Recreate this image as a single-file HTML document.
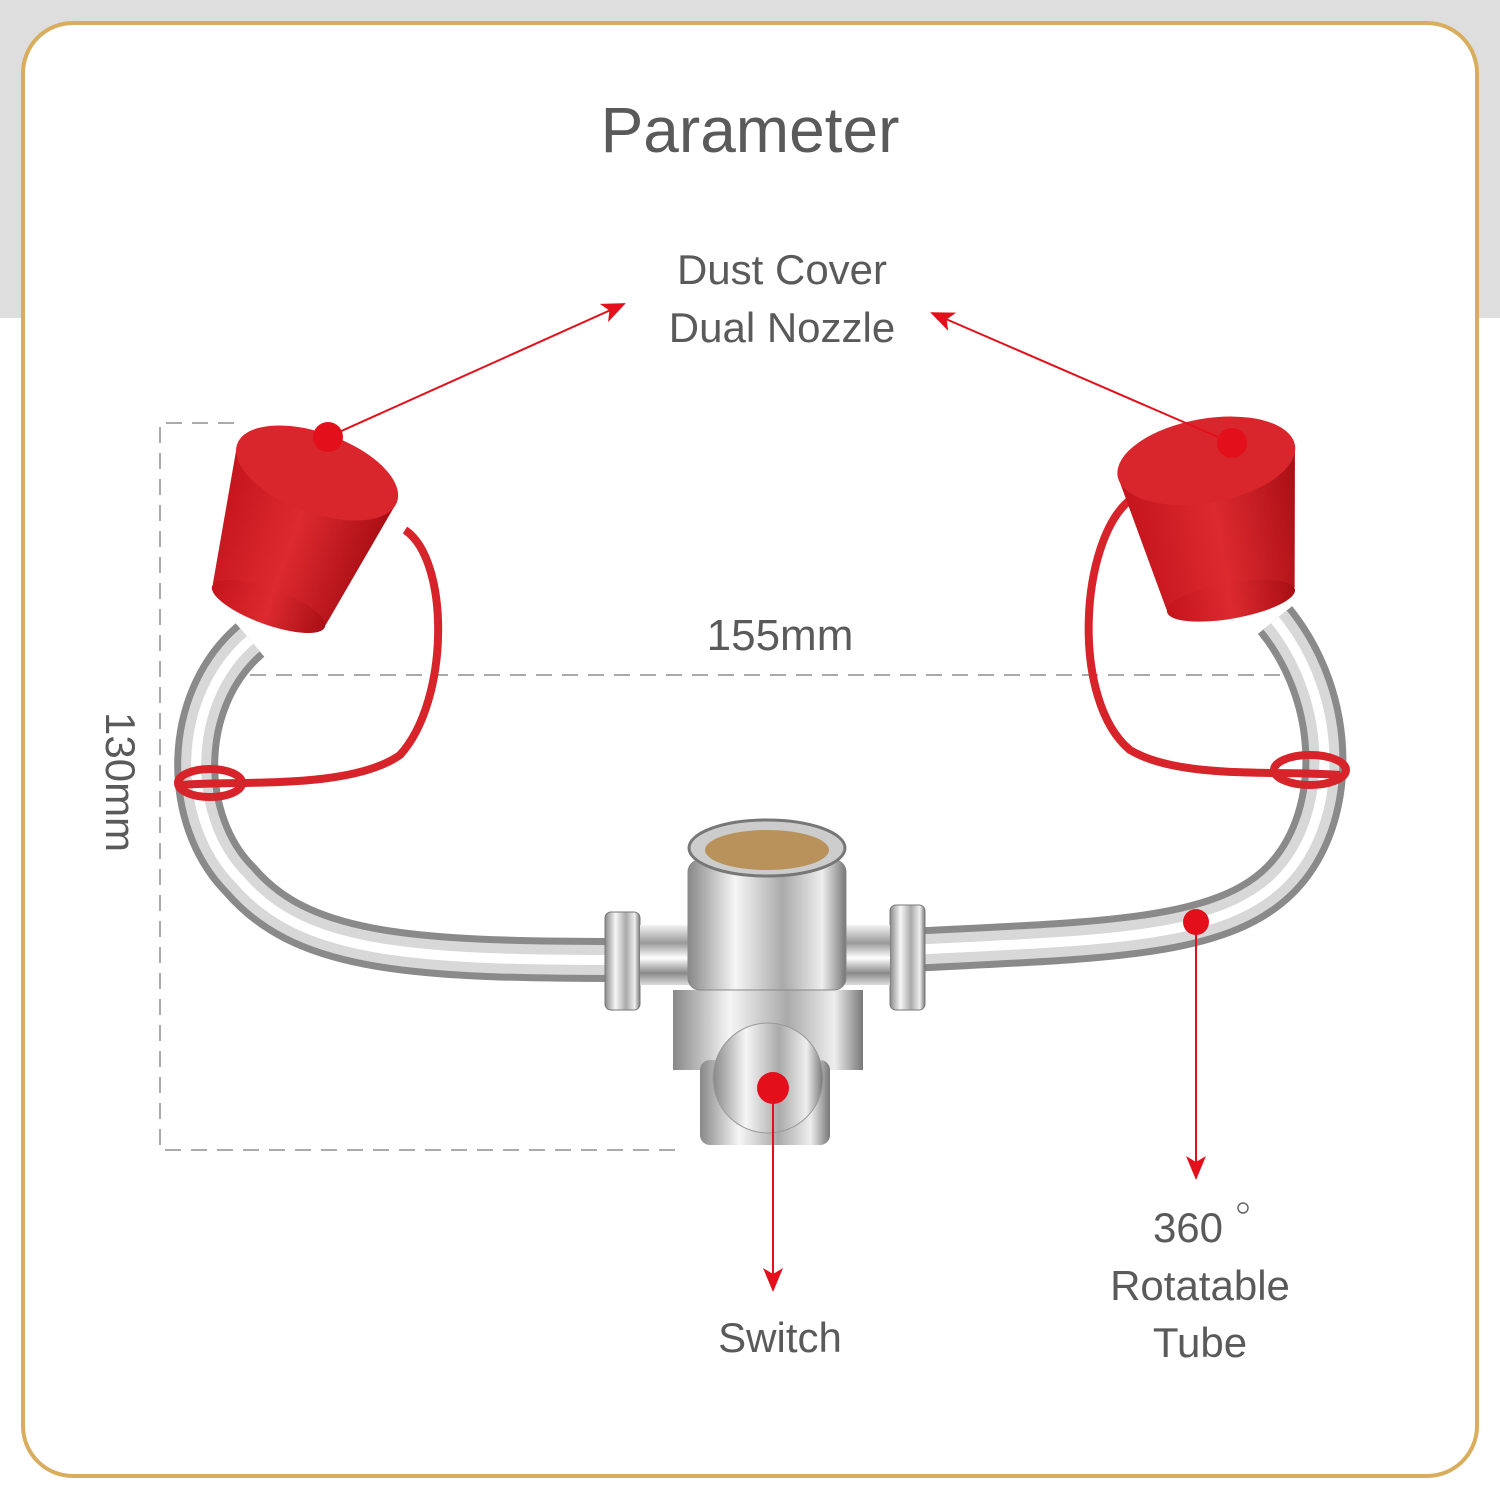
<!DOCTYPE html>
<html><head><meta charset="utf-8"><style>
html,body{margin:0;padding:0;width:1500px;height:1500px;overflow:hidden;background:#fff}
svg{display:block}
text{font-family:"Liberation Sans",sans-serif;fill:#5a5a5a}
</style></head><body>
<svg width="1500" height="1500" viewBox="0 0 1500 1500" xmlns="http://www.w3.org/2000/svg">
<defs>
<linearGradient id="chrome" x1="0" y1="0" x2="0" y2="1">
<stop offset="0" stop-color="#f4f4f4"/><stop offset="0.3" stop-color="#9a9a9a"/><stop offset="0.55" stop-color="#ffffff"/><stop offset="0.8" stop-color="#8a8a8a"/><stop offset="1" stop-color="#dcdcdc"/>
</linearGradient>
<linearGradient id="chromeV" x1="0" y1="0" x2="1" y2="0">
<stop offset="0" stop-color="#888"/><stop offset="0.3" stop-color="#f6f6f6"/><stop offset="0.6" stop-color="#aaa"/><stop offset="0.85" stop-color="#eee"/><stop offset="1" stop-color="#777"/>
</linearGradient>
<linearGradient id="red" x1="0" y1="0" x2="1" y2="0">
<stop offset="0" stop-color="#c4141c"/><stop offset="0.5" stop-color="#dc2a2f"/><stop offset="1" stop-color="#a80e14"/>
</linearGradient>
<marker id="ah" markerWidth="24" markerHeight="20" refX="22" refY="10" orient="auto" markerUnits="userSpaceOnUse" viewBox="0 0 24 20">
<path d="M0,0 L24,10 L0,20 L6,10 Z" fill="#e3101b"/></marker>
</defs>
<rect x="0" y="0" width="1500" height="318" fill="#dedede"/>
<rect x="23" y="23" width="1454" height="1453" rx="50" fill="#fff" stroke="#d9ad5e" stroke-width="4"/>
<text x="750" y="152" font-size="64" text-anchor="middle">Parameter</text>
<text x="782" y="284" font-size="42" text-anchor="middle" fill="#666">Dust Cover</text>
<text x="782" y="342" font-size="42" text-anchor="middle" fill="#666">Dual Nozzle</text>
<g stroke="#aaa" stroke-width="2" fill="none" stroke-dasharray="16 10">
<path d="M234,423 H160 V1150 H675"/>
<path d="M250,675 H1285"/>
</g>
<text x="780" y="650" font-size="44" text-anchor="middle" fill="#666">155mm</text>
<text x="0" y="0" font-size="42" fill="#666" transform="translate(106,712) rotate(90)">130mm</text>
<path d="M250,640 C180,700 180,820 240,880 C300,950 400,960 615,960" stroke="#8a8a8a" stroke-width="44" fill="none"/>
<path d="M250,640 C180,700 180,820 240,880 C300,950 400,960 615,960" stroke="#d8d8d8" stroke-width="30" fill="none"/>
<path d="M250,640 C180,700 180,820 240,880 C300,950 400,960 615,960" stroke="#fff" stroke-width="10" fill="none"/>
<path d="M1275,620 C1340,700 1340,820 1280,880 C1220,940 1100,940 910,950" stroke="#8a8a8a" stroke-width="44" fill="none"/>
<path d="M1275,620 C1340,700 1340,820 1280,880 C1220,940 1100,940 910,950" stroke="#d8d8d8" stroke-width="30" fill="none"/>
<path d="M1275,620 C1340,700 1340,820 1280,880 C1220,940 1100,940 910,950" stroke="#fff" stroke-width="10" fill="none"/>
<rect x="605" y="912" width="35" height="98" rx="6" fill="url(#chromeV)" stroke="#777"/>
<rect x="890" y="905" width="35" height="105" rx="6" fill="url(#chromeV)" stroke="#777"/>
<rect x="640" y="925" width="250" height="60" fill="url(#chrome)"/>
<rect x="673" y="990" width="190" height="80" fill="url(#chromeV)"/>
<rect x="700" y="1060" width="130" height="85" rx="10" fill="url(#chromeV)"/>
<rect x="688" y="860" width="158" height="130" rx="12" fill="url(#chromeV)" stroke="#888"/>
<ellipse cx="767" cy="848" rx="78" ry="28" fill="#ccc" stroke="#777" stroke-width="3"/>
<ellipse cx="767" cy="850" rx="62" ry="20" fill="#b8925a"/>
<circle cx="768" cy="1078" r="55" fill="url(#chromeV)" stroke="#999"/>
<path d="M405,530 C450,560 450,700 400,755 C350,790 240,780 180,785" stroke="#d6242a" stroke-width="8" fill="none"/>
<ellipse cx="210" cy="783" rx="32" ry="14" fill="none" stroke="#d6242a" stroke-width="8"/>
<path d="M1130,500 C1080,540 1070,700 1130,750 C1180,780 1280,770 1340,775" stroke="#d6242a" stroke-width="8" fill="none"/>
<ellipse cx="1310" cy="770" rx="36" ry="15" fill="none" stroke="#d6242a" stroke-width="8"/>
<g transform="rotate(20 300 520)">
<path d="M215,470 L385,470 L360,610 L240,610 Z" fill="url(#red)"/>
<ellipse cx="300" cy="612" rx="60" ry="18" fill="url(#red)"/>
<ellipse cx="300" cy="470" rx="85" ry="40" fill="#d8262c"/>
</g>
<g transform="rotate(-10 1215 510)">
<path d="M1125,460 L1305,460 L1280,600 L1150,600 Z" fill="url(#red)"/>
<ellipse cx="1215" cy="602" rx="65" ry="18" fill="url(#red)"/>
<ellipse cx="1215" cy="460" rx="90" ry="42" fill="#d8262c"/>
</g>
<g stroke="#e3101b" stroke-width="2" fill="none">
<line x1="328" y1="437" x2="624" y2="304" marker-end="url(#ah)"/>
<line x1="1232" y1="443" x2="932" y2="313" marker-end="url(#ah)"/>
<line x1="773" y1="1088" x2="773" y2="1290" marker-end="url(#ah)"/>
<line x1="1196" y1="922" x2="1196" y2="1178" marker-end="url(#ah)"/>
</g>
<g fill="#e3101b">
<circle cx="328" cy="437" r="15"/><circle cx="1232" cy="443" r="15"/>
<circle cx="773" cy="1088" r="16"/><circle cx="1196" cy="922" r="13"/>
</g>
<text x="780" y="1352" font-size="42" text-anchor="middle" fill="#666">Switch</text>
<text x="1188" y="1242" font-size="42" text-anchor="middle" fill="#666">360</text>
<circle cx="1243" cy="1208" r="5" fill="none" stroke="#666" stroke-width="1.5"/>
<text x="1200" y="1300" font-size="42" text-anchor="middle" fill="#666">Rotatable</text>
<text x="1200" y="1357" font-size="42" text-anchor="middle" fill="#666">Tube</text>
</svg>
</body></html>
